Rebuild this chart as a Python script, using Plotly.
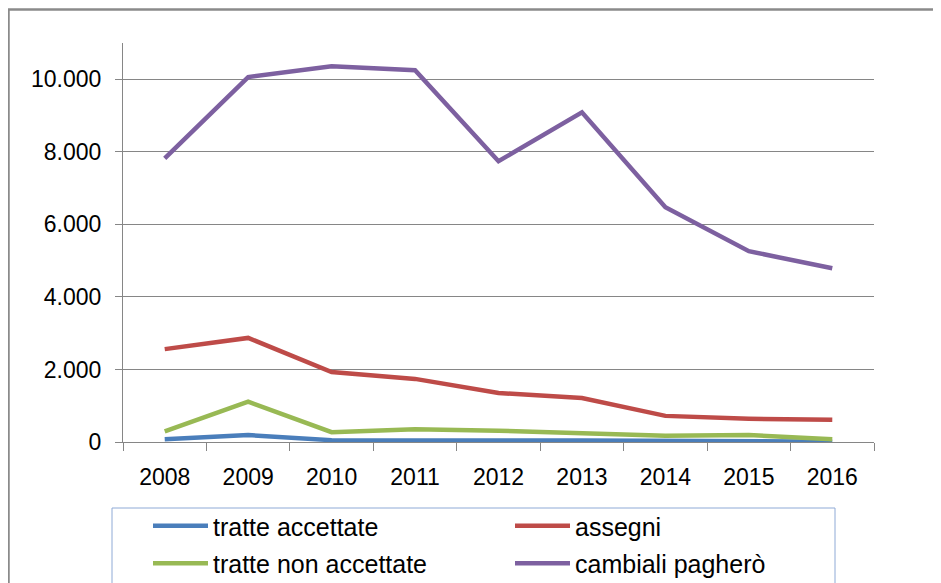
import plotly.graph_objects as go

years = ["2008", "2009", "2010", "2011", "2012", "2013", "2014", "2015", "2016"]
tratte_accettate = [75, 190, 50, 60, 40, 40, 20, 20, 10]
assegni = [2560, 2870, 1930, 1740, 1350, 1210, 720, 640, 610]
tratte_non_accettate = [290, 1110, 270, 350, 310, 240, 170, 190, 75]
cambiali_paghero = [7820, 10060, 10360, 10250, 7740, 9090, 6470, 5260, 4790]

# (name, values, colour, legend id)
series = [
    ("tratte accettate", tratte_accettate, "#4A7EBB", "legend"),
    ("assegni", assegni, "#BE4B48", "legend2"),
    ("tratte non accettate", tratte_non_accettate, "#98B954", "legend"),
    ("cambiali pagherò", cambiali_paghero, "#7D60A0", "legend2"),
]

FONT = "Liberation Sans, Arial, sans-serif"

# page has an 8px body margin, so the figure covers the page from (8, 8)
W, H = 933, 575
L, R, T, B = 115, 67, 35, 141
pw, ph = W - L - R, H - T - B

def px_x(p):
    return (p - L) / pw

def px_y(p):
    return (H - B - p) / ph

fig = go.Figure()
for name, vals, col, leg in series:
    fig.add_trace(go.Scatter(x=years, y=vals, name=name, mode="lines",
                             legend=leg, legendgroup=name,
                             line=dict(color=col, width=4.5)))

def legend_cfg(x_px, y_px):
    return dict(orientation="v", xref="container", yref="container",
                x=x_px / W, y=1 - y_px / H, xanchor="left", yanchor="top",
                font=dict(family=FONT, size=25, color="#000000"),
                bgcolor="rgba(0,0,0,0)", borderwidth=0, itemwidth=55,
                tracegroupgap=2, traceorder="grouped")

fig.update_layout(
    width=W, height=H,
    margin=dict(l=L, r=R, t=T, b=B, autoexpand=False),
    paper_bgcolor="white", plot_bgcolor="white",
    separators=",.",
    font=dict(family=FONT, size=23, color="#000000"),
    showlegend=True,
    legend=legend_cfg(140, 495),
    legend2=legend_cfg(502, 495),
    xaxis=dict(type="category", range=[-0.5, 8.5], showgrid=False,
               showline=True, linecolor="#868686", linewidth=1,
               ticks="outside", tickson="boundaries", ticklen=8, tickcolor="#868686",
               ticklabelstandoff=14,
               tickfont=dict(family=FONT, size=23, color="#000000")),
    yaxis=dict(range=[0, 11000], tickvals=[0, 2000, 4000, 6000, 8000, 10000],
               tickformat=",.0f", showgrid=True, gridcolor="#868686", gridwidth=1,
               showline=True, linecolor="#868686", linewidth=1,
               ticks="outside", ticklen=7, tickcolor="#868686", zeroline=False,
               ticklabelstandoff=9,
               tickfont=dict(family=FONT, size=23, color="#000000")),
    shapes=[
        dict(type="rect", xref="paper", yref="paper",
             x0=px_x(0.5), x1=px_x(950), y0=px_y(600), y1=px_y(1.5),
             line=dict(color="#8A8A8A", width=2.5), fillcolor="rgba(0,0,0,0)", layer="below"),
        dict(type="rect", xref="paper", yref="paper",
             x0=px_x(104), x1=px_x(827), y0=px_y(600), y1=px_y(500),
             line=dict(color="#8FAAD6", width=1), fillcolor="rgba(0,0,0,0)", layer="below"),
    ],
)

fig.write_html("out.html")
